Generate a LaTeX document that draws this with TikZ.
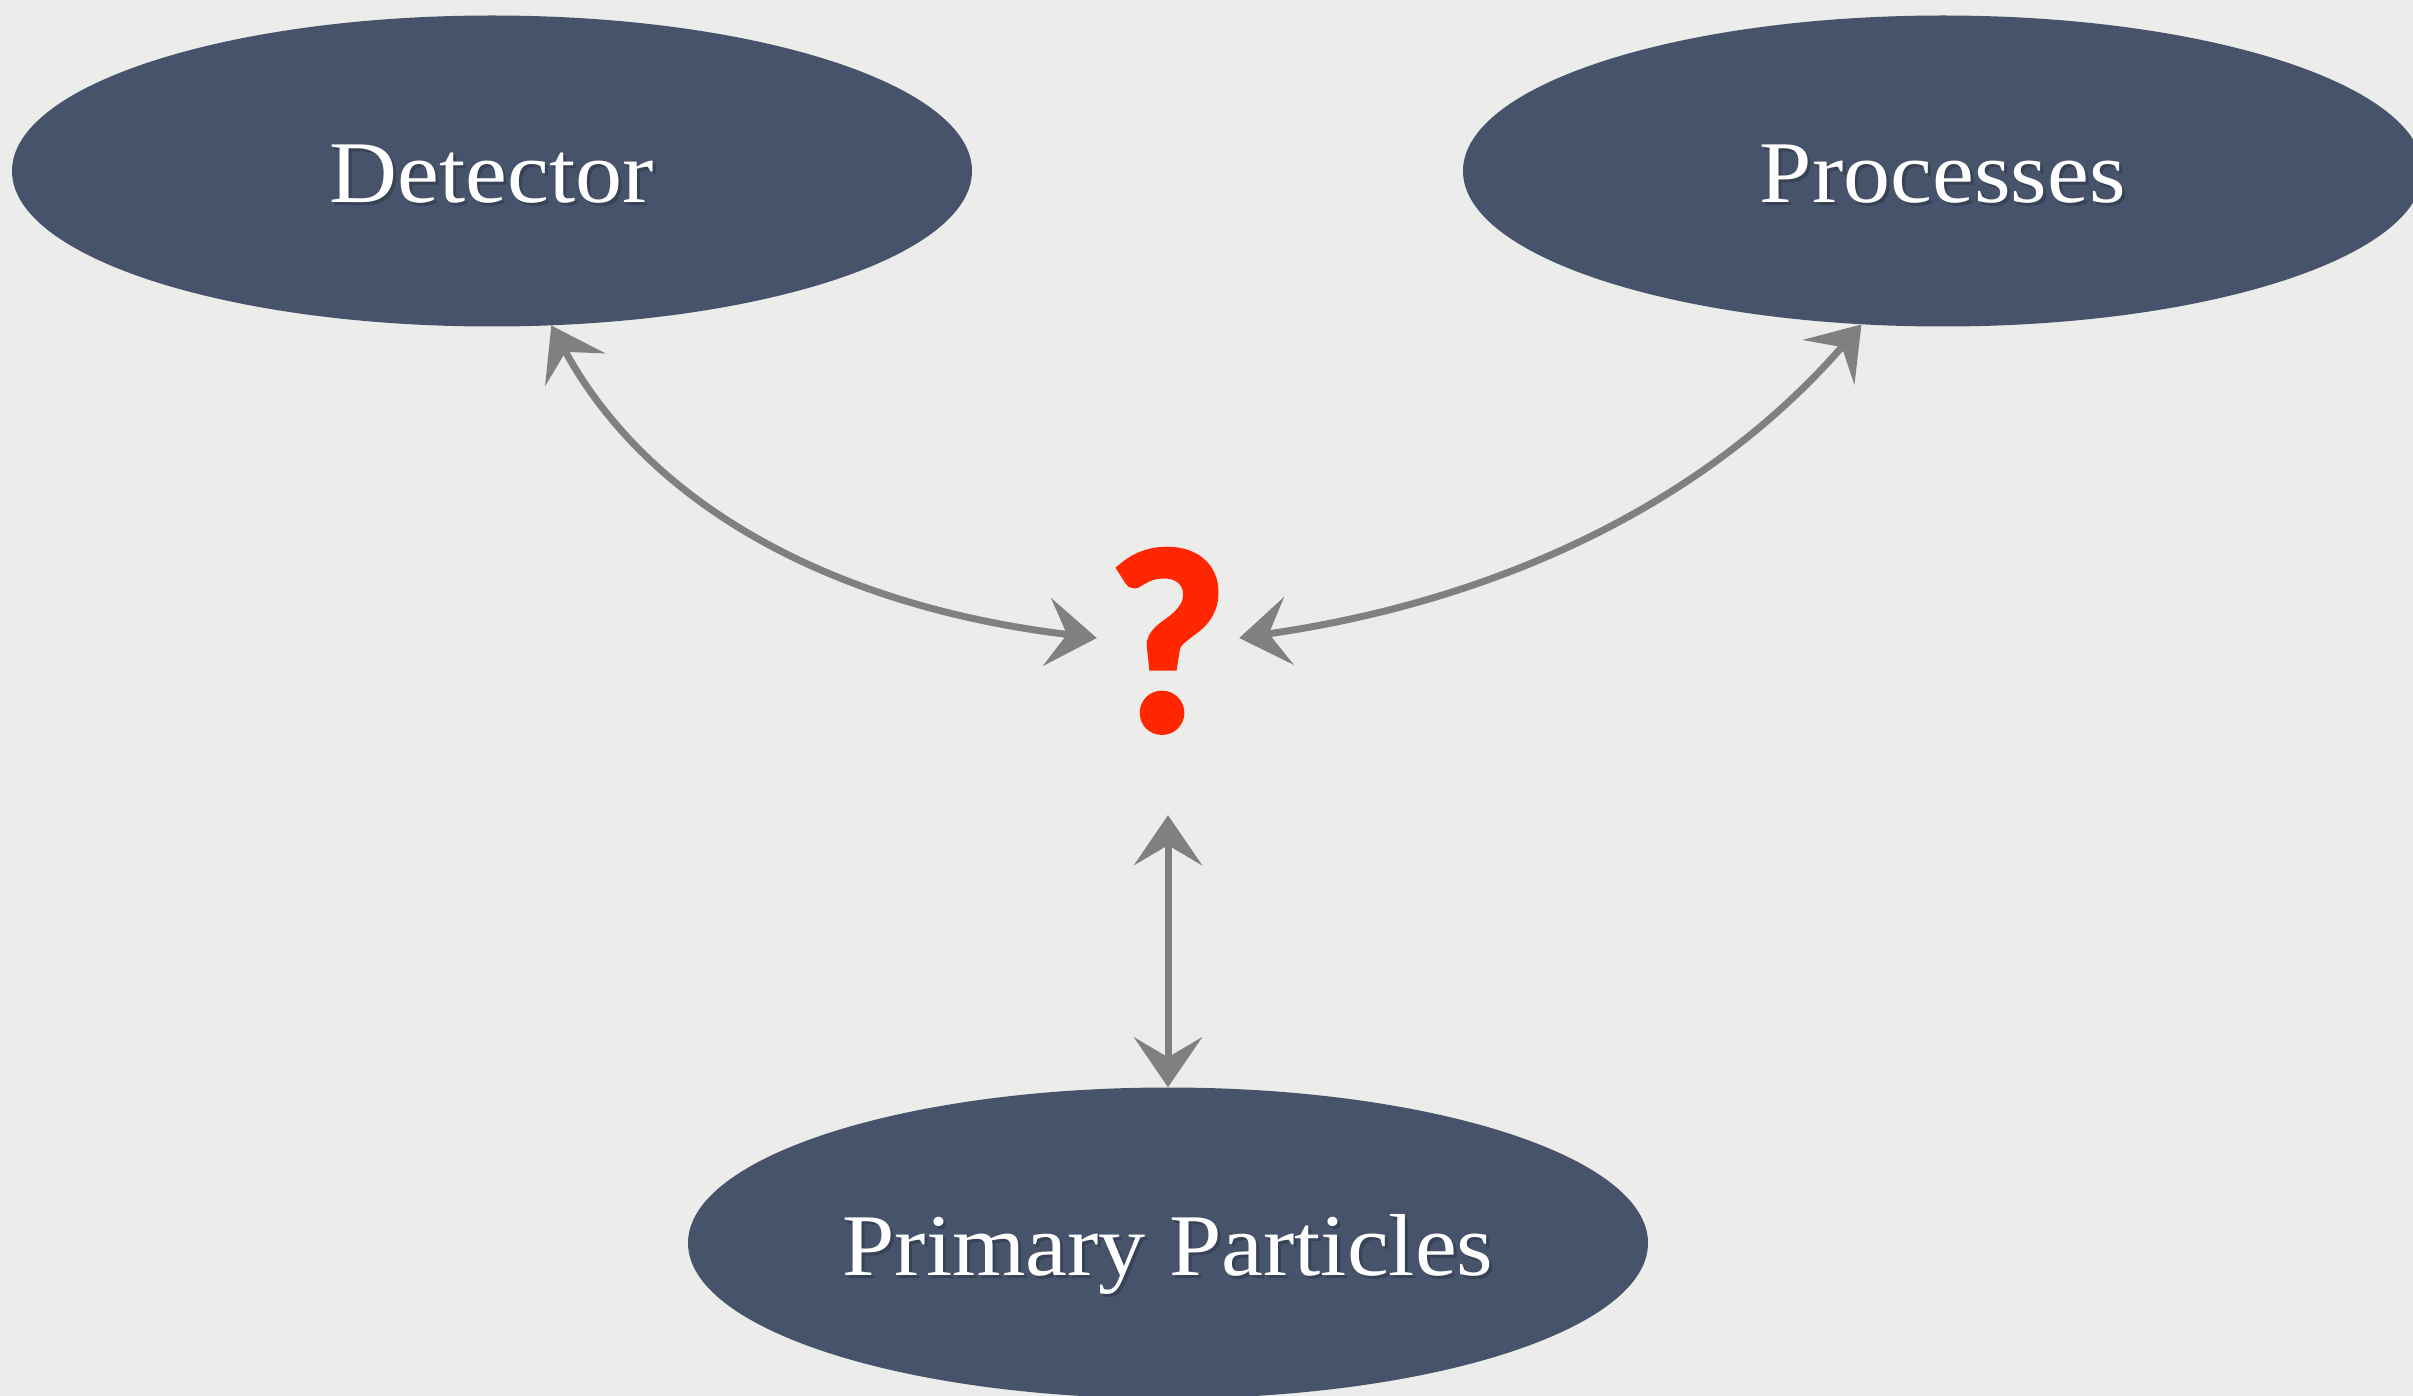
\documentclass[tikz,border=0pt]{standalone}
\usepackage{fontspec}
\usetikzlibrary{shapes.geometric,arrows.meta}
\newfontfamily\qfont{Lato}[FakeBold=3]
\newfontfamily\palfont{Liberation Serif}[FakeStretch=1.07]
\definecolor{bg}{RGB}{236,236,234}
\definecolor{ellfill}{RGB}{70,83,106}
\definecolor{shadowc}{RGB}{56,66,86}
\definecolor{qred}{RGB}{255,38,0}
\definecolor{arrgray}{RGB}{128,128,128}
\newcommand\shad[1]{\rlap{\kern3pt\raisebox{-3pt}{\color{shadowc}#1}}#1}
\tikzset{
  ell/.style={ellipse, fill=ellfill, minimum width=960pt, minimum height=311pt,
    inner sep=0pt, text=white, font=\palfont\fontsize{88}{88}\selectfont,
    text height=64pt, text depth=0pt},
  qm/.style={font=\qfont\bfseries\fontsize{245}{245}\selectfont, text=qred,
    text height=183pt, text depth=0pt, minimum width=142pt, minimum height=354pt,
    inner sep=0pt},
  >={Stealth[length=50pt,width=68pt,inset=20pt]},
  arr/.style={<->, draw=arrgray, line width=7pt}
}
\begin{document}
\begin{tikzpicture}[x=1pt,y=-1pt]
\fill[bg] (0,0) rectangle (2413,1396);
\path[use as bounding box] (0,0) rectangle (2413,1396);
\node[ell] (det) at (492,171) {\shad{Detector}};
\node[ell] (proc) at (1943,171) {\shad{Processes}};
\node[ell] (pp) at (1168,1243) {\shad{Primary Particles}};
\node[qm] (q) at (1168,638) {?};
\draw[arr] (det.-69.4) .. controls (648,504) and (831,606) .. (q.west);
\draw[arr] (proc.-118.4) .. controls (1710,499) and (1505,600) .. (q.east);
\draw[arr] (q.south) -- (pp.north);
\end{tikzpicture}
\end{document}
